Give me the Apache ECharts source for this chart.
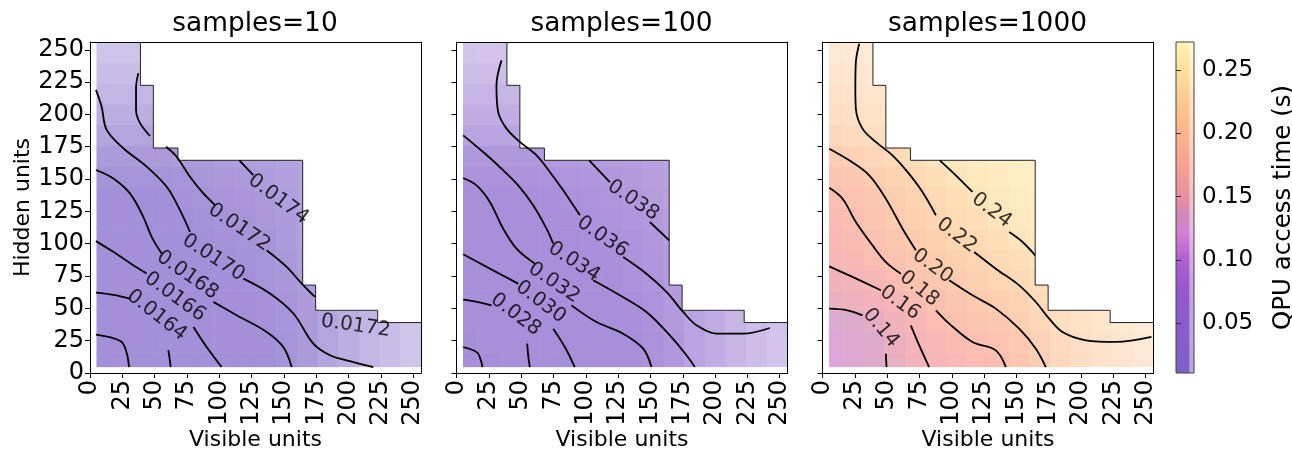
<!DOCTYPE html>
<html><head><meta charset="utf-8">
<script src="https://cdn.jsdelivr.net/npm/echarts@6/dist/echarts.min.js"></script>
<style>html,body{margin:0;padding:0;background:#fff}#c{width:1292px;height:451px}</style>
</head><body><div id="c"></div>
<script>
// ---------------- data ----------------
const titles = ['samples=10', 'samples=100', 'samples=1000'];
const cellCenters = [8,24,40,56,72,88,104,120,136,152,168,184,200,216,232,248]; // visible / hidden units
const tickValues = [0,25,50,75,100,125,150,175,200,225,250];
const cbTicks = [0.05,0.10,0.15,0.20,0.25];
const cbRange = [0.0103, 0.2725];
// boundary of the measured region (visible, hidden)
const staircase = [[39,256],[39,222.5],[49,222.5],[49,174],[68,174],[68,164.5],[164.5,164.5],[164.5,68],[174.5,68],[174.5,48.5],[222.5,48.5],[222.5,39],[256,39]];

// QPU access time (s); rows = hidden units (bottom -> top), cols = visible units
const qpu10 = [
 [0.01605,0.01615,0.01626,0.01636,0.01646,0.01655,0.01662,0.01668,0.01674,0.0168,0.01687,0.01694,0.017,0.01706,0.01709,0.0171],
 [0.01612,0.0162,0.01629,0.01638,0.01651,0.0166,0.01666,0.01672,0.01677,0.01684,0.01694,0.01702,0.01708,0.01712,0.01715,0.01716],
 [0.0162,0.01628,0.01635,0.01643,0.01657,0.01665,0.01672,0.01679,0.01686,0.01694,0.01702,0.01712,0.01718,0.01721,0.01722,0.01722],
 [0.01632,0.01636,0.01644,0.01653,0.01663,0.01674,0.01683,0.01688,0.01697,0.01705,0.01715],
 [0.01643,0.01648,0.01657,0.01664,0.01677,0.01685,0.01693,0.017,0.01708,0.01716,0.0172],
 [0.01655,0.01662,0.01669,0.0168,0.01688,0.01695,0.01703,0.0171,0.01718,0.01725,0.01731],
 [0.01661,0.01668,0.01676,0.01685,0.01695,0.01704,0.01711,0.01718,0.01725,0.01732,0.01737],
 [0.01667,0.01673,0.0168,0.0169,0.017,0.0171,0.01721,0.01728,0.01734,0.01739,0.01743],
 [0.01672,0.01677,0.01685,0.01696,0.01707,0.01719,0.01728,0.01733,0.01738,0.01742,0.01745],
 [0.01678,0.01684,0.01693,0.01703,0.01716,0.01723,0.01731,0.01737,0.01742,0.01746,0.01748],
 [0.01688,0.01696,0.01705,0.01713,0.01723,0.0173,0.01737,0.01741,0.01745,0.01748,0.0175],
 [0.01699,0.01706,0.01716,0.01723],
 [0.01702,0.01711,0.01722,0.01726],
 [0.01704,0.01713,0.01722,0.01726],
 [0.01706,0.01713,0.01721],
 [0.01707,0.01713,0.0172]
];
const qpu100 = [
 [0.0255,0.0265,0.0272,0.028,0.029,0.030,0.0305,0.031,0.0316,0.0322,0.0332,0.0342,0.0348,0.0352,0.0353,0.0352],
 [0.0264,0.027,0.0274,0.0281,0.0293,0.0302,0.0308,0.0314,0.0319,0.0327,0.0338,0.0347,0.0354,0.0357,0.0357,0.0355],
 [0.0269,0.0273,0.0278,0.0285,0.030,0.0309,0.0318,0.0325,0.0331,0.0338,0.0349,0.036,0.0364,0.0365,0.0364,0.0362],
 [0.0281,0.0286,0.0292,0.0298,0.0308,0.0321,0.0329,0.0336,0.0344,0.0353,0.0362],
 [0.0288,0.0294,0.0301,0.031,0.0319,0.0329,0.0339,0.0347,0.0356,0.0364,0.037],
 [0.0299,0.0305,0.0313,0.032,0.033,0.034,0.0349,0.0357,0.0364,0.0371,0.0378],
 [0.0307,0.0312,0.0318,0.0328,0.0339,0.0347,0.0356,0.0363,0.0369,0.0375,0.0381],
 [0.0312,0.0316,0.032,0.0333,0.0345,0.0355,0.0363,0.0369,0.0375,0.0381,0.0385],
 [0.0315,0.0318,0.033,0.0342,0.0351,0.0361,0.0368,0.0375,0.0381,0.0385,0.0388],
 [0.0324,0.0331,0.0342,0.0351,0.0359,0.0366,0.0375,0.0382,0.0386,0.0389,0.0392],
 [0.0333,0.0342,0.0351,0.0358,0.0366,0.0374,0.0382,0.0386,0.0389,0.0392,0.0394],
 [0.0343,0.035,0.0359,0.0365],
 [0.0348,0.0354,0.0364,0.0368],
 [0.035,0.0355,0.0365,0.0369],
 [0.035,0.0355,0.0362],
 [0.035,0.0354,0.0361]
];
const qpu1000 = [
 [0.125,0.13,0.136,0.144,0.155,0.163,0.168,0.174,0.179,0.189,0.199,0.206,0.211,0.214,0.215,0.214],
 [0.128,0.132,0.137,0.147,0.159,0.167,0.174,0.182,0.189,0.196,0.203,0.211,0.217,0.219,0.219,0.218],
 [0.132,0.136,0.142,0.153,0.164,0.175,0.183,0.19,0.196,0.204,0.214,0.223,0.226,0.227,0.227,0.226],
 [0.146,0.149,0.154,0.161,0.173,0.183,0.19,0.198,0.206,0.214,0.222],
 [0.153,0.158,0.166,0.175,0.184,0.194,0.203,0.209,0.216,0.222,0.226],
 [0.163,0.168,0.176,0.185,0.195,0.204,0.211,0.218,0.225,0.231,0.238],
 [0.168,0.173,0.183,0.194,0.203,0.211,0.219,0.227,0.233,0.24,0.244],
 [0.172,0.18,0.19,0.2,0.209,0.219,0.227,0.233,0.24,0.245,0.249],
 [0.178,0.186,0.195,0.205,0.215,0.224,0.232,0.24,0.245,0.249,0.252],
 [0.187,0.193,0.202,0.212,0.222,0.231,0.24,0.245,0.249,0.252,0.254],
 [0.198,0.205,0.213,0.221,0.23,0.24,0.244,0.248,0.251,0.253,0.255],
 [0.207,0.213,0.222,0.228],
 [0.212,0.218,0.225,0.229],
 [0.213,0.219,0.226,0.23],
 [0.213,0.219,0.226],
 [0.213,0.219,0.225]
];
// image opacity (shared by the three panels)
const fade = [
 [.70,.70,.70,.70,.70,.70,.70,.70,.70,.68,.64,.57,.51,.46,.41,.37],
 [.70,.70,.70,.70,.70,.70,.70,.70,.70,.68,.64,.57,.51,.46,.41,.37],
 [.70,.70,.70,.70,.70,.70,.70,.70,.69,.67,.63,.57,.51,.46,.41,.37],
 [.70,.70,.70,.70,.70,.70,.70,.70,.69,.67,.63],
 [.70,.70,.70,.70,.70,.70,.70,.70,.68,.66,.62],
 [.70,.70,.70,.70,.70,.70,.70,.69,.68,.65,.61],
 [.70,.70,.70,.70,.70,.70,.69,.68,.67,.64,.60],
 [.70,.70,.70,.70,.70,.69,.68,.67,.65,.63,.59],
 [.70,.70,.70,.70,.69,.68,.67,.66,.64,.61,.58],
 [.68,.68,.68,.68,.67,.66,.65,.64,.62,.60,.57],
 [.64,.64,.64,.64,.63,.63,.62,.61,.60,.58,.56],
 [.57,.57,.57,.56],
 [.51,.51,.51,.50],
 [.46,.46,.46,.45],
 [.41,.41,.41],
 [.37,.37,.37]
];

// contour lines (visible, hidden), broken where labels sit
const contours10 = [
 [[4.6,29.7],[16,27.5],[24.5,24],[28.4,15.5],[30.2,4.6]],
 [[4.6,62.2],[18,60.5],[30.9,57.6]],
 [[60.6,17.6],[61.6,11],[62.4,4.6]],
 [[4.6,102],[18,93.7],[33.5,83.4],[43.8,77]],
 [[80,35.6],[90.2,20.1],[101.8,4.6]],
 [[4.6,157],[18,150.5],[30.9,138.9],[41.2,120.8],[47.7,105.3],[55.4,92.4]],
 [[95.4,55],[113.4,44.7],[136.6,31.8],[149.5,20.1],[156,4.6]],
 [[4.6,219],[9,206],[12.9,188],[25.8,173.8],[43.8,159.6],[59.3,144],[69.6,126],[77.3,109.2]],
 [[118.6,73],[139.2,61.5],[157.3,46],[172.7,22.7],[185.6,13.7],[198.5,9.8],[219.1,4.6]],
 [[37.4,231.9],[35.6,220.3],[35.6,203.5],[38.7,193.2],[46.4,183.3]],
 [[58.8,175],[67,167.3],[77.3,151.8],[87.7,138.9],[96.7,129.9]],
 [[136.6,95],[152.1,82.1],[163.7,69.2],[174,58.9]],
 [[115.5,164.5],[126.3,153]]
];
const labels10 = [[51.6,44.7,-38,'0.0164'],[65.7,58.9,-36,'0.0166'],[75.4,75.7,-35,'0.0168'],[95.4,89.2,-33,'0.0170'],[115.4,112.5,-34,'0.0172'],[145.7,134.4,-37,'0.0174'],[205.5,36.4,-8,'0.0172']];

const contours100 = [
 [[5.2,20.1],[12,18],[16.8,15],[20.1,4.6]],
 [[5.2,56.7],[16,55],[27.1,52.3]],
 [[54.7,22.7],[55.5,13],[56.7,4.6]],
 [[5.2,91.8],[25.8,80.7],[47.7,69.1]],
 [[74.8,34.3],[83.8,20.1],[91.5,4.6]],
 [[5.2,150.8],[15.5,145.1],[25.8,132.3],[36.1,111.6],[46.4,96.2],[60.6,84.6]],
 [[88.9,52.3],[108.3,39.4],[128.9,30.4],[144.4,18.8],[150.8,4.6]],
 [[5.2,183.8],[20.6,170.9],[33.5,159.3],[47.7,145.1],[59.3,129.7],[69.6,111.6],[74.8,100]],
 [[105.7,71.7],[126.3,60.1],[146.9,47.2],[165,29.1],[177.9,13.7],[184.3,4.6]],
 [[34.8,241.8],[30.9,222.5],[32.2,201.9],[38.7,189],[49,178.7],[61.9,168.3],[72.2,155.5],[82.5,141.3],[95.4,122]],
 [[128.9,89.7],[146.9,76.8],[162.4,62.7],[175.3,47.2],[185.6,36.9],[201.1,30.4],[221.7,30.4],[242.3,34.8]],
 [[102.6,164.5],[118.6,147.7]],
 [[149.5,116.8],[164.5,102.6]]
];
const labels100 = [[45.8,45.2,-37,'0.028'],[65.1,54.9,-37,'0.030'],[75.4,69.7,-34,'0.032'],[90.9,85.9,-33,'0.034'],[112.8,105.2,-35,'0.036'],[136.6,133.5,-34,'0.038']];

const contours1000 = [
 [[5.2,49.8],[19.3,48.5],[30.9,44.6]],
 [[49,15],[49.5,4.6]],
 [[5.2,82.5],[20.6,75.5],[45.1,64]],
 [[68.3,36.9],[74.8,21.4],[82.5,4.6]],
 [[5.2,143.3],[15.5,134.8],[25.8,116.8],[38.7,98.7],[49,85.8],[60.6,76.8]],
 [[87.7,48.5],[98,38.2],[116,24],[134,17.5],[141.8,4.6]],
 [[5.2,173.5],[20.6,164.5],[36.1,152.9],[49,134.8],[61.9,111.6],[72.2,94.9]],
 [[98,71.7],[116,60.1],[134,49.8],[152.1,34.3],[165,18.8],[172.7,4.6]],
 [[28.4,254.7],[25.8,240.5],[25.4,220],[25.8,204.4],[30.9,189],[41.2,178.7],[54.1,168.3],[65.7,155.5],[77.3,140],[87.7,122]],
 [[117.3,93.6],[134,80.7],[152.1,67.8],[165,54.9],[175.3,42],[185.6,31.7],[203.7,25.3],[226.9,24],[254.4,27.9]],
 [[90.7,164.5],[103.1,152.9],[116,140]],
 [[144.4,109],[154.7,101.3],[164.5,91]]
];
const labels1000 = [[45.1,34.9,-50,'0.14'],[59.9,54.3,-36,'0.16'],[74.8,65.2,-39,'0.18'],[85.1,82.6,-36,'0.20'],[103.8,106.5,-37,'0.22'],[130.8,125.8,-37,'0.24']];

// ---------------- styles ----------------
const F = 'DejaVu Sans';
const cmapStops = [[0.0103,'#7a62c6'],[0.05,'#8a5ccb'],[0.08,'#9a58cd'],[0.10,'#b060d0'],[0.12,'#d27ed6'],[0.135,'#cc88b8'],[0.15,'#ea90a0'],[0.175,'#f8a090'],[0.20,'#fcb48c'],[0.225,'#fdc890'],[0.25,'#fde09c'],[0.2725,'#fff3b8']];
function hex2rgb(h){return [parseInt(h.slice(1,3),16),parseInt(h.slice(3,5),16),parseInt(h.slice(5,7),16)];}
const stops = cmapStops.map(s => [s[0], hex2rgb(s[1])]);
function cmap(v){
  if (v <= stops[0][0]) return stops[0][1];
  for (let k = 1; k < stops.length; k++) {
    if (v <= stops[k][0]) {
      const a = stops[k-1], b = stops[k], t = (v - a[0]) / (b[0] - a[0]);
      return a[1].map((c, m) => c + (b[1][m] - c) * t);
    }
  }
  return stops[stops.length-1][1];
}
function shade(v, a){ const c = cmap(v); return 'rgb(' + c.map(x => Math.round(255 - (255 - x) * a)).join(',') + ')'; }

const panels = [
  {values: qpu10, contours: contours10, labels: labels10},
  {values: qpu100, contours: contours100, labels: labels100},
  {values: qpu1000, contours: contours1000, labels: labels1000}
];
const panelLeft = [90, 456.5, 822.5];
const half = 8, dataStart = 5;

const grids = [], xAxes = [], yAxes = [], series = [], titleOpt = [];
const black = {color: '#000', width: 1};
const txt = {color: '#000', fontFamily: F, fontSize: 22};
const tickTxt = {color: '#000', fontFamily: F, fontSize: 24};

panels.forEach((p, k) => {
  grids.push({left: panelLeft[k], top: 42, width: 331, height: 331, outerBoundsMode: 'none'});
  titleOpt.push({text: titles[k], left: panelLeft[k] + 165, top: 11, padding: 0, textAlign: 'center',
    textStyle: {fontSize: 26.4, fontWeight: 'normal', fontFamily: F, color: '#000'}});
  const base = {type: 'value', min: 0, max: 256, gridIndex: k, z: 10, splitLine: {show: false}};
  xAxes.push(Object.assign({}, base, {position: 'bottom',
    axisLine: {show: true, onZero: false, lineStyle: black},
    axisTick: {show: true, length: 5, customValues: tickValues, lineStyle: black},
    axisLabel: Object.assign({show: true, customValues: tickValues, rotate: 90, margin: 7}, tickTxt),
    name: 'Visible units', nameLocation: 'middle', nameGap: 56, nameMoveOverlap: false, nameTextStyle: txt}));
  xAxes.push(Object.assign({}, base, {position: 'top', axisLine: {show: true, onZero: false, lineStyle: black},
    axisTick: {show: false}, axisLabel: {show: false}}));
  yAxes.push(Object.assign({}, base, {position: 'left',
    axisLine: {show: true, onZero: false, lineStyle: black},
    axisTick: {show: true, length: 5, customValues: tickValues, lineStyle: black},
    axisLabel: Object.assign({show: k === 0, customValues: tickValues, margin: 6}, tickTxt),
    name: k === 0 ? 'Hidden units' : '', nameLocation: 'middle', nameGap: 56, nameMoveOverlap: false, nameTextStyle: txt}));
  yAxes.push(Object.assign({}, base, {position: 'right', axisLine: {show: true, onZero: false, lineStyle: black},
    axisTick: {show: false}, axisLabel: {show: false}}));

  const cells = [];
  p.values.forEach((row, j) => row.forEach((v, i) => {
    if (v != null) cells.push([cellCenters[i], cellCenters[j], v, fade[j][i]]);
  }));
  const ax = {xAxisIndex: 2*k, yAxisIndex: 2*k};
  series.push(Object.assign({type: 'custom', z: 1, silent: true, data: cells,
    encode: {x: 0, y: 1},
    renderItem: (params, api) => {
      const cx = api.value(0), cy = api.value(1);
      const p0 = api.coord([Math.max(cx - half, dataStart), Math.max(cy - half, dataStart)]);
      const p1 = api.coord([cx + half, cy + half]);
      return {type: 'rect', shape: {x: p0[0], y: p1[1], width: p1[0] - p0[0] + 0.6, height: p0[1] - p1[1] + 0.6},
        style: {fill: shade(api.value(2), api.value(3))}};
    }}, ax));
  series.push(Object.assign({type: 'line', z: 2, silent: true, data: staircase, symbol: 'none',
    lineStyle: {color: '#222', width: 1}, areaStyle: {color: '#fff', opacity: 1, origin: 'end'}}, ax));
  p.contours.forEach(seg => series.push(Object.assign({type: 'line', z: 3, silent: true, data: seg,
    symbol: 'none', smooth: 0.35, lineStyle: {color: '#000', width: 1.8}}, ax)));
  series.push(Object.assign({type: 'scatter', z: 4, silent: true, symbolSize: 1,
    itemStyle: {color: 'rgba(0,0,0,0)'},
    data: p.labels.map(l => ({value: [l[0], l[1]], label: {rotate: l[2], formatter: l[3]}})),
    label: {show: true, position: 'inside', fontSize: 20, color: '#000', fontFamily: F}}, ax));
});

// colorbar
grids.push({left: 1176, top: 42, width: 18, height: 331, outerBoundsMode: 'none'});
xAxes.push({type: 'value', gridIndex: 3, min: 0, max: 1, show: false});
yAxes.push({type: 'value', gridIndex: 3, min: cbRange[0], max: cbRange[1], position: 'right', z: 10,
  splitLine: {show: false}, axisLine: {show: false},
  axisTick: {show: true, length: 5, customValues: cbTicks, lineStyle: {color: '#333', width: 1}},
  axisLabel: Object.assign({customValues: cbTicks, margin: 8, formatter: v => v.toFixed(2)}, txt, {fontSize: 23}),
  name: 'QPU access time (s)', nameLocation: 'middle', nameGap: 77, nameRotate: 90, nameMoveOverlap: false,
  nameTextStyle: Object.assign({}, txt, {fontSize: 24.5})});
series.push({type: 'custom', xAxisIndex: 6, yAxisIndex: 6, silent: true, data: [[0, cbRange[0]]],
  renderItem: (params, api) => {
    const p0 = api.coord([0, cbRange[0]]), p1 = api.coord([1, cbRange[1]]);
    const w = p1[0] - p0[0], h = p0[1] - p1[1];
    const span = cbRange[1] - cbRange[0];
    const g1 = new echarts.graphic.LinearGradient(0, 1, 0, 0,
      stops.map(s => ({offset: (s[0] - cbRange[0]) / span, color: shade(s[0], 1)})));
    const g2 = new echarts.graphic.LinearGradient(0, 1, 0, 0,
      stops.map(s => ({offset: (s[0] - cbRange[0]) / span, color: shade(s[0], 0.55)})));
    return {type: 'group', children: [
      {type: 'rect', shape: {x: p0[0], y: p1[1], width: w, height: h}, style: {fill: g1}},
      {type: 'rect', shape: {x: p0[0] + w * 0.74, y: p1[1], width: w * 0.26, height: h}, style: {fill: g2}},
      {type: 'rect', shape: {x: p0[0], y: p1[1], width: w, height: h}, style: {fill: 'none', stroke: '#444', lineWidth: 1}}
    ]};
  }});

const chart = echarts.init(document.getElementById('c'), null, {renderer: 'canvas'});
chart.setOption({animation: false, backgroundColor: '#fff', title: titleOpt, grid: grids,
  xAxis: xAxes, yAxis: yAxes, series: series});
</script></body></html>
